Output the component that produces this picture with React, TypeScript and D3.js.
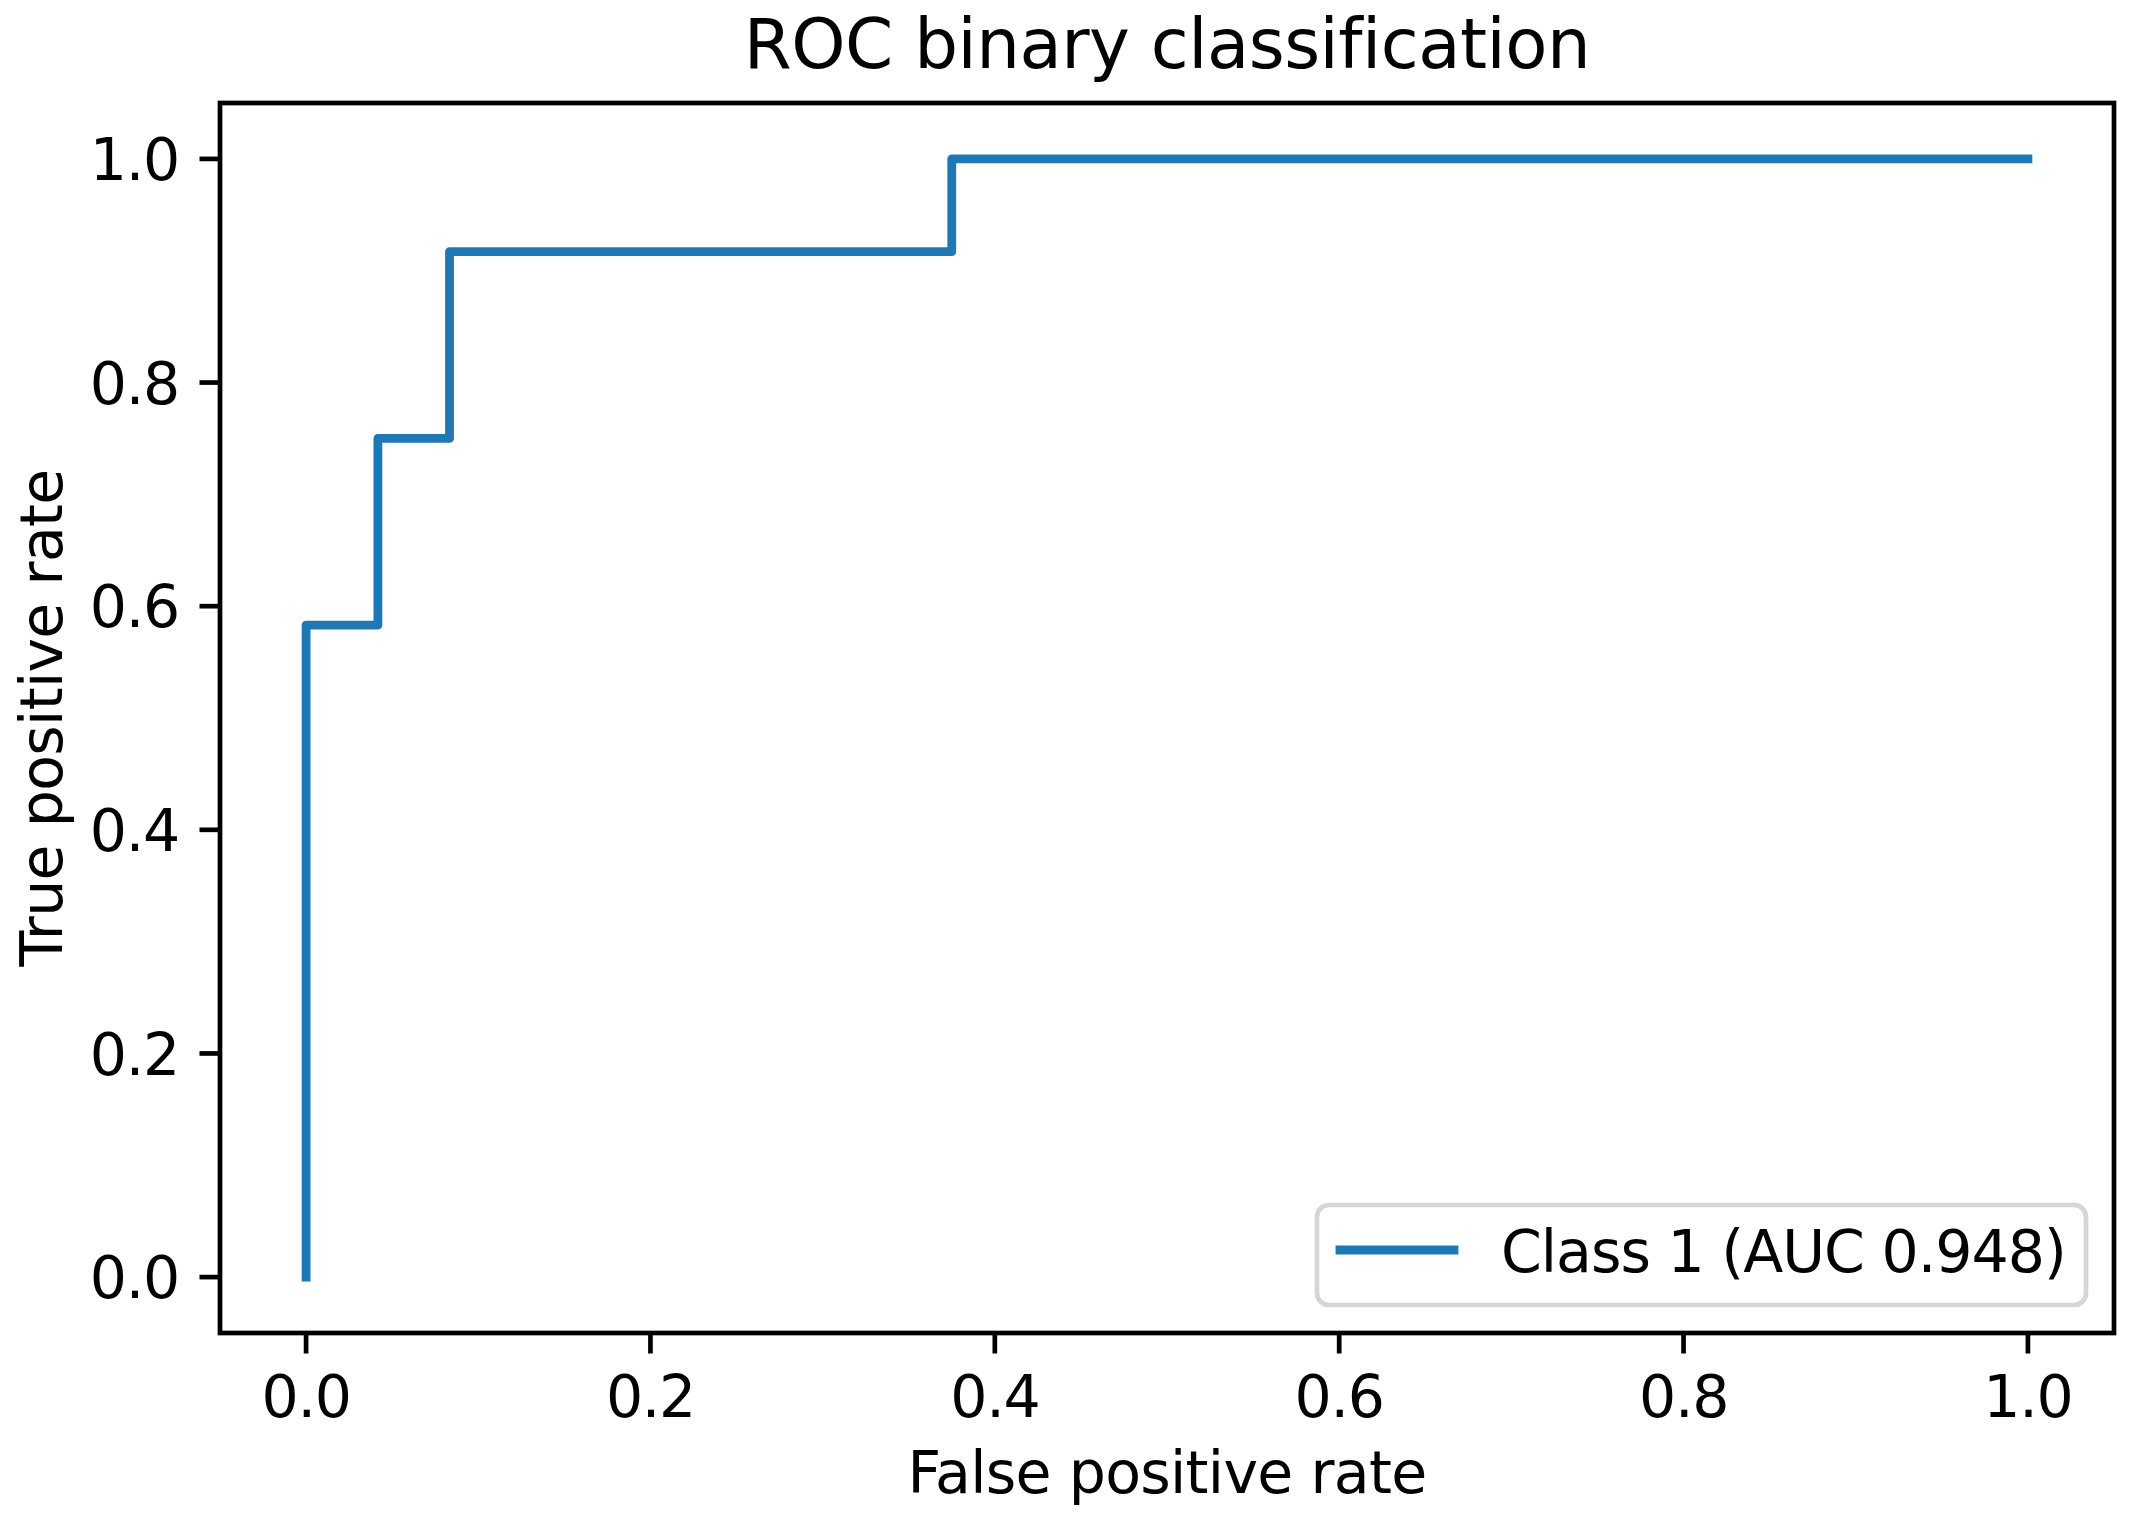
import React from "react";
import * as d3 from "d3";

const fpr = [0, 0, 0.0417, 0.0417, 0.0833, 0.0833, 0.375, 0.375, 1.0];
const tpr = [0, 0.583, 0.583, 0.75, 0.75, 0.917, 0.917, 1.0, 1.0];
const xTicks = [0, 0.2, 0.4, 0.6, 0.8, 1.0];
const yTicks = [0, 0.2, 0.4, 0.6, 0.8, 1.0];
const title = "ROC binary classification";
const xLabel = "False positive rate";
const yLabel = "True positive rate";
const legendLabel = "Class 1 (AUC 0.948)";

const W = 2132;
const H = 1516;
const L = 220, R = 2114, T = 103, B = 1333;
const FONT = "'DejaVu Sans', sans-serif";
const FS = 58.5;
const LS = -1;
const AX_LW = 4.7;
const TICK = 20.5;
const BLUE = "#1f77b4";

export default function App() {
  const x = d3.scaleLinear().domain([-0.05, 1.05]).range([L, R]);
  const y = d3.scaleLinear().domain([-0.05, 1.05]).range([B, T]);
  const pts: [number, number][] = fpr.map((f, i) => [f, tpr[i]]);
  const line = d3
    .line<[number, number]>()
    .x((d) => x(d[0]))
    .y((d) => y(d[1]));
  const fmt = d3.format(".1f");

  return (
    <div style={{ position: "absolute", left: 0, top: 0 }}>
      <svg width={W} height={H} style={{ display: "block", background: "#fff" }} fontFamily={FONT}>
        <rect x={0} y={0} width={W} height={H} fill="#fff" />
        <path
          d={line(pts) || ""}
          fill="none"
          stroke={BLUE}
          strokeWidth={8.8}
          strokeLinecap="square"
          strokeLinejoin="round"
        />
        {/* spines */}
        <rect x={L} y={T} width={R - L} height={B - T} fill="none" stroke="#000" strokeWidth={AX_LW} />
        {/* x ticks */}
        {xTicks.map((t) => (
          <g key={"x" + t}>
            <line x1={x(t)} x2={x(t)} y1={B} y2={B + TICK} stroke="#000" strokeWidth={AX_LW} />
            <text x={x(t)} y={1417} fontSize={FS} letterSpacing={LS * 1.3} textAnchor="middle" fill="#000">
              {fmt(t)}
            </text>
          </g>
        ))}
        {/* y ticks */}
        {yTicks.map((t) => (
          <g key={"y" + t}>
            <line x1={L} x2={L - TICK} y1={y(t)} y2={y(t)} stroke="#000" strokeWidth={AX_LW} />
            <text x={L - TICK - 20.5} y={y(t) + 21.3} fontSize={FS} letterSpacing={LS * 1.3} textAnchor="end" fill="#000">
              {fmt(t)}
            </text>
          </g>
        ))}
        {/* title */}
        <text x={(L + R) / 2} y={68} fontSize={69} letterSpacing={-0.5} textAnchor="middle" fill="#000">
          {title}
        </text>
        {/* x label */}
        <text x={(L + R) / 2} y={1493} fontSize={FS} letterSpacing={-0.7} textAnchor="middle" fill="#000">
          {xLabel}
        </text>
        {/* y label */}
        <text
          transform={`translate(62, ${(T + B) / 2}) rotate(-90)`}
          fontSize={FS}
          letterSpacing={-0.7}
          textAnchor="middle"
          fill="#000"
        >
          {yLabel}
        </text>
        {/* legend */}
        <rect
          x={1317}
          y={1205}
          width={2086 - 1317}
          height={1305 - 1205}
          rx={12}
          ry={12}
          fill="#fff"
          fillOpacity={0.8}
          stroke="#d6d6d6"
          strokeWidth={4.7}
        />
        <line x1={1340} x2={1454} y1={1250} y2={1250} stroke={BLUE} strokeWidth={8.8} strokeLinecap="square" />
        <text x={1501} y={1272} fontSize={FS} letterSpacing={LS} fill="#000">
          {legendLabel}
        </text>
      </svg>
    </div>
  );
}
